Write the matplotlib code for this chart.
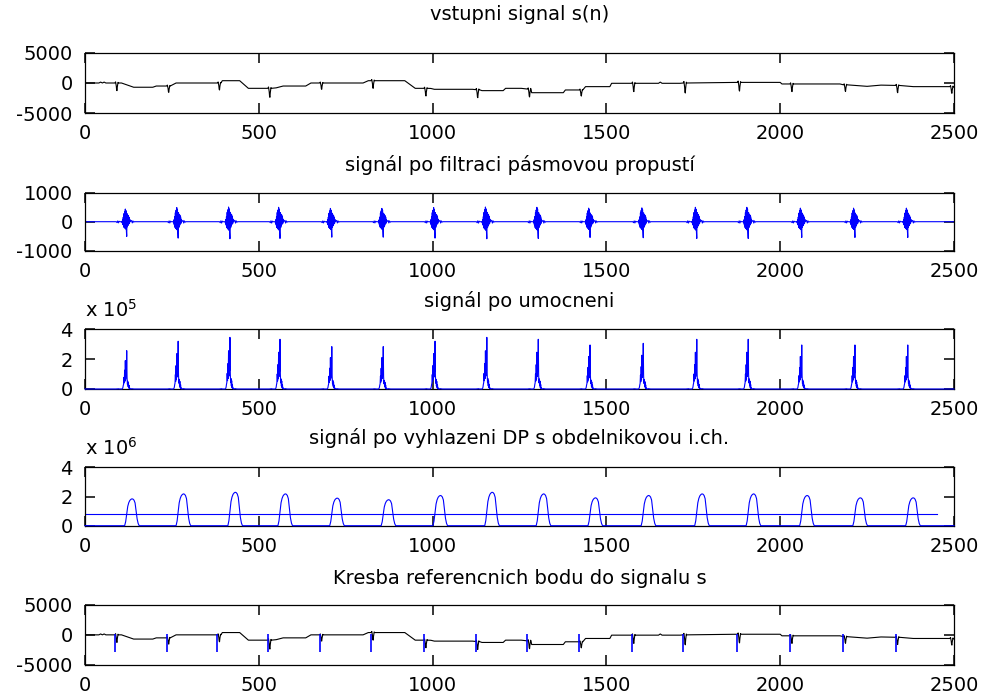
import numpy as np
import matplotlib
matplotlib.use('Agg')
import matplotlib.pyplot as plt

plt.rcParams['font.family'] = ['DejaVu Sans']
plt.rcParams['axes.unicode_minus'] = False
plt.rcParams['mathtext.fontset'] = 'dejavusans'
plt.rcParams['xtick.direction'] = 'in'
plt.rcParams['ytick.direction'] = 'in'
plt.rcParams['xtick.top'] = True
plt.rcParams['ytick.right'] = True
plt.rcParams['xtick.major.size'] = 6
plt.rcParams['ytick.major.size'] = 6
plt.rcParams['xtick.major.width'] = 1.0
plt.rcParams['ytick.major.width'] = 1.0

FS = 14

# ---------------- data ----------------
titles = ['vstupni signal s(n)',
          'signál po filtraci pásmovou propustí',
          'signál po umocneni',
          'signál po vyhlazeni DP s obdelnikovou i.ch.',
          'Kresba referencnich bodu do signalu s']
xticks = [0, 500, 1000, 1500, 2000, 2500]
yticks = [[-5000, 0, 5000], [-1000, 0, 1000], [0, 2, 4], [0, 2, 4], [-5000, 0, 5000]]
ylims = [(-5000, 5000), (-1000, 1000), (0, 4), (0, 4), (-5000, 5000)]

# raw ECG: baseline knots (sample, value)
baseline_x = [0, 40, 45, 50, 55, 60, 86, 105, 125, 140, 195, 205, 235, 262, 375, 395, 445, 470,
              526, 550, 570, 635, 650, 675, 800, 815, 920, 950, 975, 995, 1005, 1115, 1124, 1142,
              1203, 1210, 1255, 1273, 1285, 1376, 1382, 1415, 1422, 1440, 1510, 1515, 1573, 1650,
              1655, 1660, 1712, 1721, 1730, 1877, 2000, 2005, 2028, 2172, 2182, 2191, 2250, 2290,
              2332, 2383, 2480, 2488, 2500]
baseline_y = [0, 0, 150, 0, 150, 0, 0, 0, -400, -700, -700, -500, -500, 0, 0, 380, 380, -880,
              -880, -800, -500, -500, 0, 0, 0, 380, 380, -880, -880, -900, -1040, -1040, -1100, -1260,
              -1260, -880, -880, -1000, -1600, -1600, -1150, -1150, -1150, -600, -600, -50, -50, -50,
              150, -50, -50, 0, 100, 100, 100, -160, -160, -160, -300, -600, -550, -350,
              -400, -600, -600, -600, -700]
# raw R waves (downward spikes)
raw_beats = [86, 235, 381, 526, 675, 823, 975, 1124, 1273, 1422, 1573, 1721, 1877, 2028, 2182, 2332, 2488]
raw_depth = [1260, 1040, 1150, 1480, 1040, 1260, 1260, 1320, 1300, 1000, 1370, 1650, 1430, 1260, 1100, 1200, 1100]
raw_base = [0, -500, 0, -880, 0, 380, -880, -1100, -1000, -1150, -50, 0, 100, -160, -300, -400, -600]
raw_tmpl_off = [0, 2, 4, 5, 6, 7, 9, 10]
raw_tmpl_val = [0, 0.15, -0.4, -0.9, -1.0, -0.5, 0.08, 0]

# detected reference points
ref_points = [86, 235, 381, 526, 675, 823, 975, 1124, 1273, 1422, 1573, 1721, 1877, 2028, 2182, 2332]
ref_top, ref_bottom = 200, -2800

# band-pass filtered QRS complexes
filt_pos = [120, 268, 417, 561, 710, 858, 1007, 1156, 1304, 1453, 1606, 1760, 1908, 2062, 2215, 2367]
filt_tmpl_off = [-30, -28, -26, -24, -22, -20, -14, -13, -12, -11, -10, -9, -8, -7, -6, -5, -4, -3,
                 -2, -1, 0, 1, 2, 3, 4, 5, 6, 7, 8, 9, 10, 14, 16, 18, 20, 22]
filt_tmpl_val = [0, -0.06, 0.05, -0.08, 0.03, 0, 0, -0.08, 0.12, -0.2, 0.3, -0.35, 0.55, -0.4, 0.7,
                 -0.45, 0.86, -0.5, 0.75, -0.6, -1.0, 0.55, -0.35, 0.45, -0.25, 0.4, -0.15, 0.3,
                 -0.1, 0.15, 0, 0.08, -0.08, 0.05, -0.03, 0]

# squared signal peak heights (x 10^5)
squared_peak = [2.57, 3.2, 3.46, 3.33, 2.84, 2.84, 3.2, 3.46, 3.33, 2.95, 3.06, 3.33, 3.33, 2.95, 2.95, 2.95]

# smoothed signal peaks (x 10^6)
smooth_peak = [1.84, 2.18, 2.29, 2.18, 1.89, 1.78, 2.07, 2.29, 2.18, 1.91, 2.07, 2.18, 2.18, 2.07, 1.91, 1.91]
smooth_tmpl_off = [-6, -3, 0, 3, 6, 9, 12, 15, 18, 21, 24, 27, 30, 33, 36]
smooth_tmpl_val = [0, 0.15, 0.45, 0.72, 0.86, 0.94, 0.98, 1.0, 0.99, 0.95, 0.85, 0.55, 0.25, 0.08, 0]
threshold = 0.83
threshold_end = 2450

# ---------------- build traces ----------------
def raw_trace():
    pts = []
    for x, y in zip(baseline_x, baseline_y):
        if any(b - 0.5 <= x <= b + 10.5 for b in raw_beats):
            continue
        pts.append((x, y))
    for b, d, base in zip(raw_beats, raw_depth, raw_base):
        for o, v in zip(raw_tmpl_off, raw_tmpl_val):
            pts.append((b + o, base + v * d))
    pts.sort()
    return np.array([p[0] for p in pts]), np.array([p[1] for p in pts])

def filt_trace():
    xs, ys = [0], [0.0]
    for c, h in zip(filt_pos, squared_peak):
        amp = np.sqrt(h * 1e5)
        for o, v in zip(filt_tmpl_off, filt_tmpl_val):
            xs.append(c + o)
            ys.append(v * amp)
    xs.append(2500); ys.append(0.0)
    return np.array(xs), np.array(ys)

def smooth_trace():
    xs, ys = [0], [0.0]
    for c, h in zip(filt_pos, smooth_peak):
        for o, v in zip(smooth_tmpl_off, smooth_tmpl_val):
            xs.append(c + o)
            ys.append(v * h)
    xs.append(2500); ys.append(0.0)
    return np.array(xs), np.array(ys)

rx, ry = raw_trace()
fx, fy = filt_trace()
sq_y = fy ** 2 / 1e5
sx, sy = smooth_trace()

# ---------------- figure ----------------
W, H = 982, 697
fig = plt.figure(figsize=(W / 100, H / 100), dpi=100)
px_left, px_right = 85, 954
axes_px = [(52.7, 113.3), (192.7, 250.7), (329.3, 389.0), (467.3, 525.7), (604.7, 665.0)]
title_cy = [15, 165, 301, 438, 578]

axs = []
for i, (top, bot) in enumerate(axes_px):
    ax = fig.add_axes([px_left / W, 1 - bot / H, (px_right - px_left) / W, (bot - top) / H])
    ax.set_xlim(0, 2500)
    ax.set_ylim(*ylims[i])
    ax.set_xticks(xticks)
    ax.set_yticks(yticks[i])
    ax.tick_params(which='major', direction='in', top=True, right=True, bottom=True, left=True,
                   length=7, width=1.1, color='black', labelsize=FS, labelcolor='black')
    ax.tick_params(axis='x', pad=8)
    ax.tick_params(axis='y', pad=9)
    for sp in ax.spines.values():
        sp.set_linewidth(0.9)
    hgt = bot - top
    ax.text(0.5, (title_cy[i] - bot) / -hgt, titles[i], transform=ax.transAxes,
            ha='center', va='center', fontsize=FS)
    axs.append(ax)

lw = 0.8
axs[0].plot(rx, ry, color='black', lw=lw)
axs[1].plot(fx, fy, color='blue', lw=lw)
axs[2].plot(fx, sq_y, color='blue', lw=lw, zorder=3, clip_on=False)
axs[3].plot(sx, sy, color='blue', lw=lw, zorder=3, clip_on=False)
axs[3].plot([0, threshold_end], [threshold, threshold], color='blue', lw=lw)
axs[4].plot(rx, ry, color='black', lw=lw)
axs[4].vlines(ref_points, ref_bottom, ref_top, color='blue', lw=1.2)

for ax, e in ((axs[2], 5), (axs[3], 6)):
    hgt = ax.get_position().height * H
    ax.text(0.0, 1 + 12.6 / hgt, r'x 10$^{%d}$' % e, transform=ax.transAxes,
            ha='left', va='baseline', fontsize=FS)

fig.savefig('out.png', dpi=100)
